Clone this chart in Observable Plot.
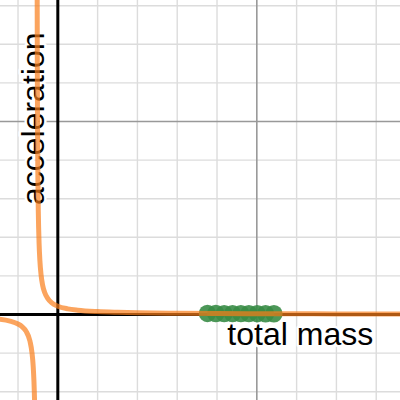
<!DOCTYPE html>
<html>
<head>
<meta charset="utf-8">
<script src="https://cdn.jsdelivr.net/npm/d3@7"></script>
<script src="https://cdn.jsdelivr.net/npm/@observablehq/plot@0.6"></script>
<style>
  html, body { margin: 0; padding: 0; background: #fff; }
  #chart svg { display: block; }
</style>
</head>
<body>
<div id="chart"></div>
<script>
// Curve: acceleration vs total mass, two branches
const rightX = [-0.521, -0.515, -0.510, -0.500, -0.490, -0.470, -0.450, -0.420, -0.380, -0.330, -0.250, -0.150, 0, 0.25, 0.5, 1, 1.5, 2, 3, 4, 5, 6, 7, 8, 8.7];
const rightY = [9.6, 6.39, 5.0, 3.48, 2.67, 1.83, 1.39, 1.02, 0.75, 0.57, 0.41, 0.30, 0.216, 0.147, 0.111, 0.075, 0.057, 0.045, 0.033, 0.025, 0.021, 0.018, 0.015, 0.013, 0.012];
const leftX = [-1.5, -1.2, -1.0, -0.9, -0.8, -0.7, -0.65, -0.62, -0.6, -0.585, -0.575, -0.56, -0.552];
const leftY = [-0.119, -0.172, -0.246, -0.313, -0.431, -0.689, -0.983, -1.32, -1.72, -2.21, -2.74, -4.26, -6.0];

// Measured points
const pointX = [3.76, 3.97, 4.18, 4.39, 4.60, 4.80, 5.01, 5.22, 5.43];
const pointY = [0.027, 0.026, 0.024, 0.023, 0.022, 0.022, 0.021, 0.020, 0.019];

// Grid lines
const minorX = [-1, 1, 2, 3, 4, 6, 7, 8];
const majorX = [5];
const minorY = [-2, -1, 1, 2, 3, 4, 6, 7, 8];
const majorY = [5];

const xLabel = "total mass";
const yLabel = "acceleration";

const curve = [
  ...rightX.map((x, i) => ({x, y: rightY[i], branch: "right"})),
  ...leftX.map((x, i) => ({x, y: leftY[i], branch: "left"}))
];
const points = pointX.map((x, i) => ({x, y: pointY[i]}));

const font = "'Liberation Sans', Arial, sans-serif";

const chart = Plot.plot({
  width: 400,
  height: 400,
  margin: 0,
  style: {background: "#fff", fontFamily: font},
  x: {domain: [-1.44, 8.61], axis: null},
  y: {domain: [-2.228, 8.135], axis: null},
  marks: [
    Plot.ruleX(minorX, {stroke: "#dcdcdc", strokeWidth: 1.4}),
    Plot.ruleY(minorY, {stroke: "#dcdcdc", strokeWidth: 1.4}),
    Plot.ruleX(majorX, {stroke: "#999", strokeWidth: 1.6}),
    Plot.ruleY(majorY, {stroke: "#999", strokeWidth: 1.6}),
    Plot.ruleX([0], {stroke: "#000", strokeWidth: 3}),
    Plot.ruleY([0], {stroke: "#000", strokeWidth: 3}),
    Plot.text([yLabel], {
      x: -0.347, y: 5.07, text: d => d, rotate: -90,
      textAnchor: "middle", lineAnchor: "bottom",
      fontSize: 32, fontFamily: font, fill: "#000",
      stroke: "#fff", strokeWidth: 5, paintOrder: "stroke"
    }),
    Plot.text([xLabel], {
      x: 4.26, y: -0.79, text: d => d,
      textAnchor: "start", lineAnchor: "bottom",
      fontSize: 32, fontFamily: font, fill: "#000",
      stroke: "#fff", strokeWidth: 5, paintOrder: "stroke"
    }),
    Plot.dot(points, {x: "x", y: "y", r: 8.7, fill: "#388c46", fillOpacity: 0.9, stroke: "none"}),
    Plot.line(curve, {
      x: "x", y: "y", z: "branch", curve: "monotone-x",
      stroke: "#fa7e19", strokeOpacity: 0.7, strokeWidth: 5, clip: true
    })
  ]
});
document.getElementById("chart").appendChild(chart);
</script>
</body>
</html>
